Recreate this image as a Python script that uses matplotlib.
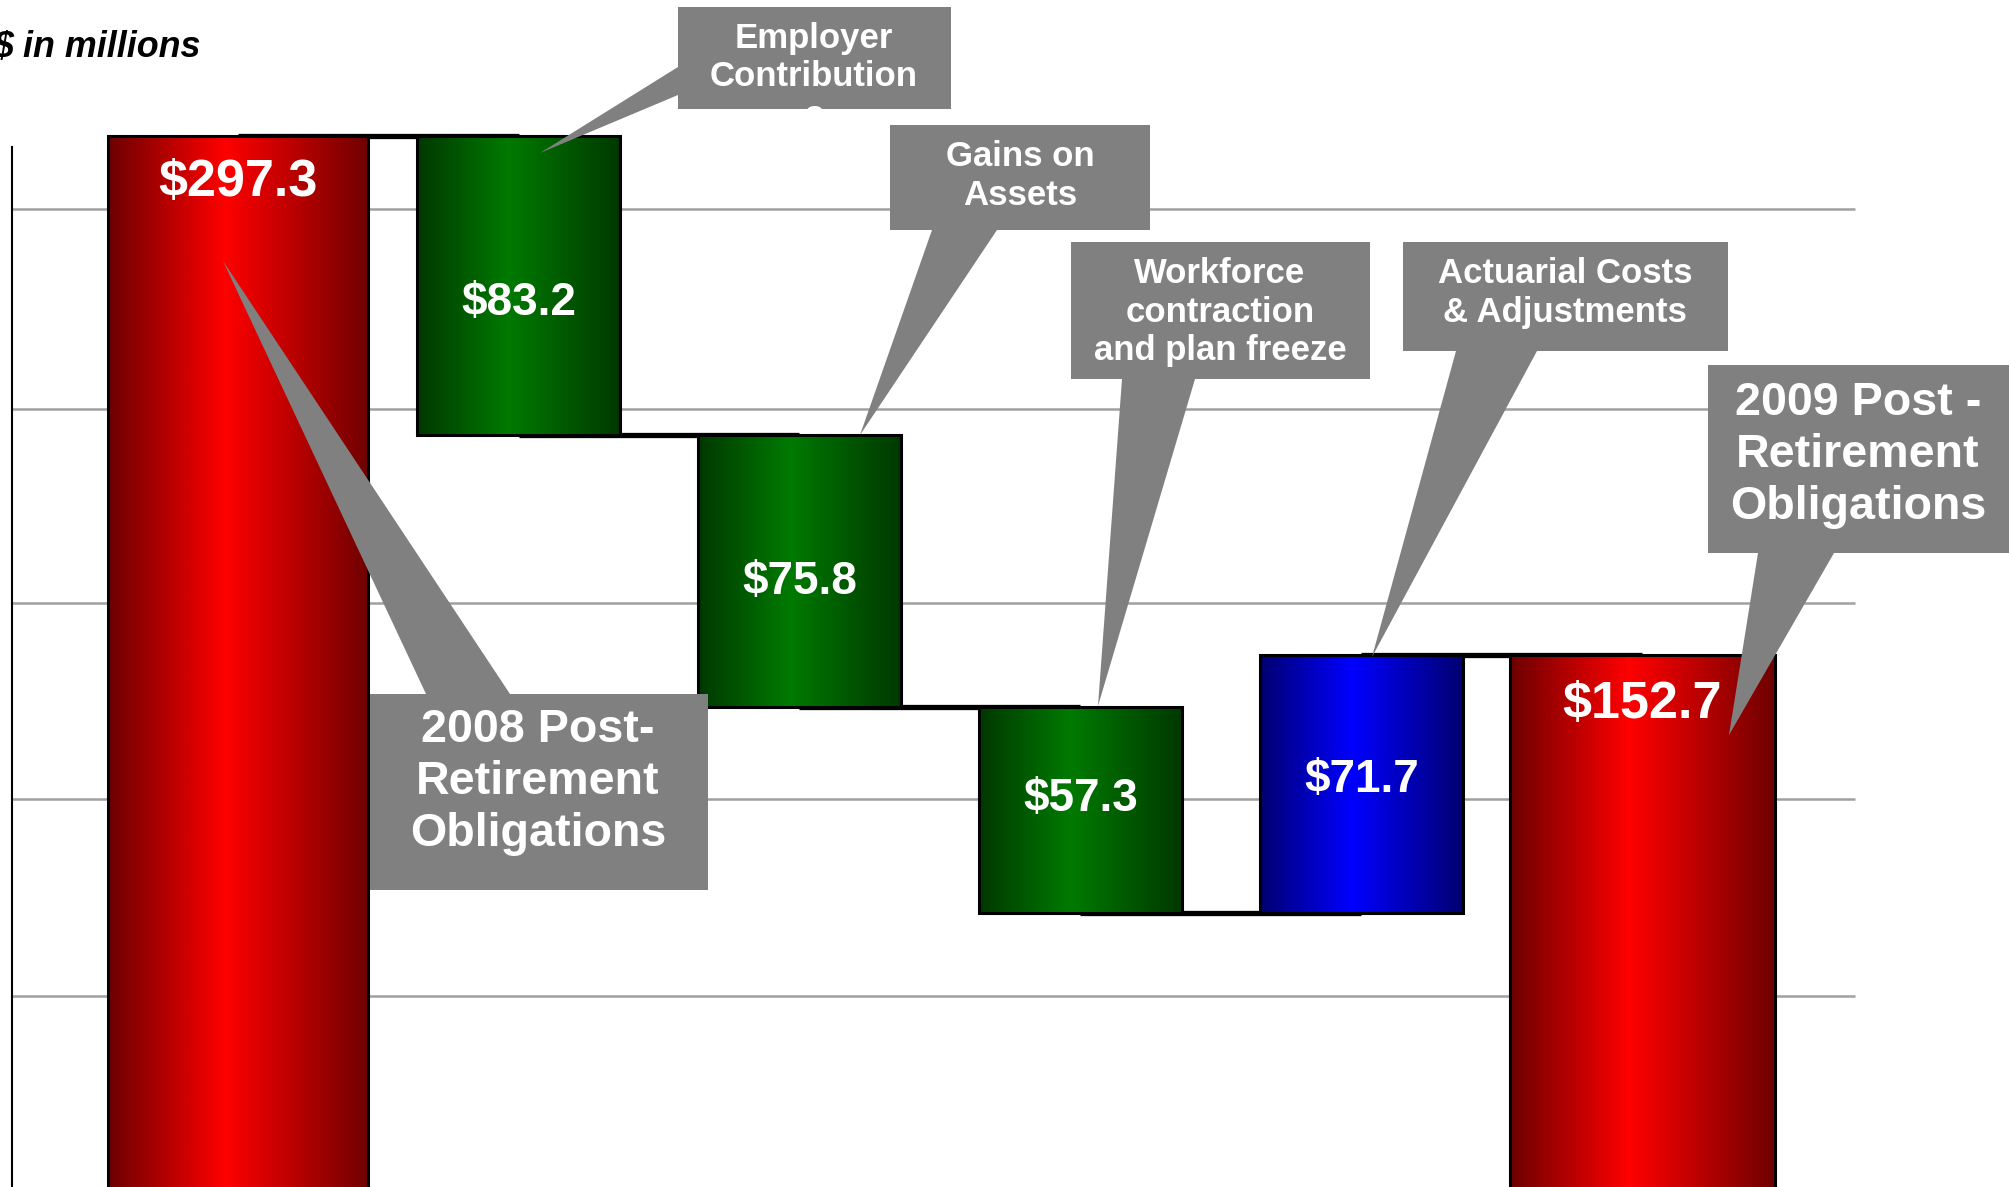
import numpy as np
import matplotlib
matplotlib.use('Agg')
import matplotlib.pyplot as plt
from matplotlib.colors import LinearSegmentedColormap
from matplotlib.patches import Rectangle, Polygon

plt.rcParams['font.family'] = ['Liberation Sans', 'DejaVu Sans']

# data ($ in millions)
steps = ['2008 Post-Retirement Obligations', 'Employer Contributions', 'Gains on Assets',
         'Workforce contraction and plan freeze', 'Actuarial Costs & Adjustments',
         '2009 Post-Retirement Obligations']
amounts = [297.3, -83.2, -75.8, -57.3, 71.7, 152.7]
kinds = ['total', 'down', 'down', 'down', 'up', 'total']
value_labels = ['$297.3', '$83.2', '$75.8', '$57.3', '$71.7', '$152.7']
callout_texts = ['2008 Post-\nRetirement\nObligations',
                 'Employer\nContribution\ns',
                 'Gains on\nAssets',
                 'Workforce\ncontraction\nand plan freeze',
                 'Actuarial Costs\n& Adjustments',
                 '2009 Post -\nRetirement\nObligations']
grid_levels = [57.9, 112.6, 167.3, 221.2, 276.9]

# layout (output pixels, origin top-left)
FIG_W, FIG_H = 2009, 1187
X0_PX, STEP_PX = 237.7, 280.9      # pixel x of first category, category spacing
ZERO_PX, PX_PER_M = 1203.7, 3.591  # pixel y of 0, pixels per $1M
bar_widths = [0.926, 0.723, 0.723, 0.723, 0.723, 0.943]
# label placement: offset from bar top (totals) or bar middle (steps), in $M
label_offsets = [-13.0, -5.0, -3.2, 3.1, 1.2, -13.8]
label_sizes = [37.5, 33, 33, 33, 33, 37.5]

# callout boxes: (left, top, right, bottom), pointer: base1, base2, tip, text centre, font size
callouts = [
    dict(box=(370, 694, 708, 890), ptr=[(426, 694), (510, 694), (223, 261)], txt=(538, 782), fs=33.6),
    dict(box=(678, 7, 951, 109), ptr=[(678, 67), (678, 95), (540, 153)], txt=(814, 77), fs=25),
    dict(box=(890, 125, 1150, 230), ptr=[(932, 230), (997, 230), (860, 435)], txt=(1020, 176), fs=25),
    dict(box=(1071, 242, 1370, 379), ptr=[(1122, 379), (1195, 379), (1098, 706)], txt=(1220, 312), fs=25),
    dict(box=(1403, 242, 1728, 351), ptr=[(1456, 351), (1537, 351), (1372, 657)], txt=(1565, 293), fs=25),
    dict(box=(1708, 365, 2040, 553), ptr=[(1758, 553), (1834, 553), (1729, 735)], txt=(1858, 455), fs=33.6),
]


def dx(px):
    return (px - X0_PX) / STEP_PX


def dy(py):
    return (ZERO_PX - py) / PX_PER_M


cmaps = {
    'total': LinearSegmentedColormap.from_list('r', [(0, '#6c0000'), (0.45, '#ff0000'), (1, '#700000')]),
    'down': LinearSegmentedColormap.from_list('g', [(0, '#003800'), (0.45, '#007a00'), (1, '#003800')]),
    'up': LinearSegmentedColormap.from_list('b', [(0, '#000070'), (0.45, '#0000ff'), (1, '#000070')]),
}

# waterfall geometry
bottoms, heights, levels = [], [], []
level = 0.0
for amt, kind in zip(amounts, kinds):
    if kind == 'total':
        bottoms.append(0.0)
        heights.append(amt)
        level = amt
    elif kind == 'down':
        bottoms.append(level + amt)
        heights.append(-amt)
        level += amt
    else:
        bottoms.append(level)
        heights.append(amt)
        level += amt
    levels.append(level)

fig = plt.figure(figsize=(FIG_W / 100, FIG_H / 100), dpi=100)
ax = fig.add_axes([0, 0, 1, 1])
x = np.arange(len(amounts))

ax.hlines(grid_levels, dx(12), dx(1855), color='#a0a0a0', lw=1.8, zorder=0)

# connectors
for i in range(len(amounts) - 1):
    ax.plot([x[i], x[i + 1]], [levels[i], levels[i]], color='black', lw=3.8,
            solid_capstyle='butt', zorder=1)

bars = ax.bar(x, heights, bottom=bottoms, width=bar_widths, facecolor='none',
              edgecolor='black', linewidth=2.2, zorder=3)

grad = np.linspace(0, 1, 256).reshape(1, -1)
for bar, kind in zip(bars, kinds):
    x0, y0 = bar.get_x(), bar.get_y()
    im = ax.imshow(grad, cmap=cmaps[kind], aspect='auto', interpolation='bilinear',
                   extent=[x0, x0 + bar.get_width(), y0, y0 + bar.get_height()], zorder=2.5)
    im.set_clip_path(bar)

# value labels
for i, (lab, kind) in enumerate(zip(value_labels, kinds)):
    if kind == 'total':
        yv = bottoms[i] + heights[i]
    else:
        yv = bottoms[i] + heights[i] / 2
    ax.text(x[i], yv + label_offsets[i], lab, color='white', fontsize=label_sizes[i],
            fontweight='bold', ha='center', va='center', zorder=4.5)

# callouts
for c, txt in zip(callouts, callout_texts):
    l, t, r, b = c['box']
    ax.add_patch(Rectangle((dx(l), dy(b)), dx(r) - dx(l), dy(t) - dy(b),
                           facecolor='#808080', edgecolor='none', zorder=4))
    ax.add_patch(Polygon([(dx(px), dy(py)) for px, py in c['ptr']], closed=True,
                         facecolor='#808080', edgecolor='none', zorder=4))
    ax.text(dx(c['txt'][0]), dy(c['txt'][1]), txt, color='white', fontsize=c['fs'],
            fontweight='bold', ha='center', va='center', multialignment='center',
            linespacing=1.23, zorder=5)

fig.text(-7 / FIG_W, 1 - 48 / FIG_H, '$ in millions', fontsize=25.8, fontweight='bold',
         fontstyle='italic', ha='left', va='center')

for s in ['top', 'right', 'bottom']:
    ax.spines[s].set_visible(False)
ax.spines['left'].set_position(('data', dx(12)))
ax.spines['left'].set_bounds(dy(FIG_H), dy(147))
ax.spines['left'].set_linewidth(1.5)
ax.set_xticks([])
ax.set_yticks([])
ax.set_xlim(dx(0), dx(FIG_W))
ax.set_ylim(dy(FIG_H), dy(0))
ax.patch.set_visible(False)

fig.savefig('out.png', dpi=100)
